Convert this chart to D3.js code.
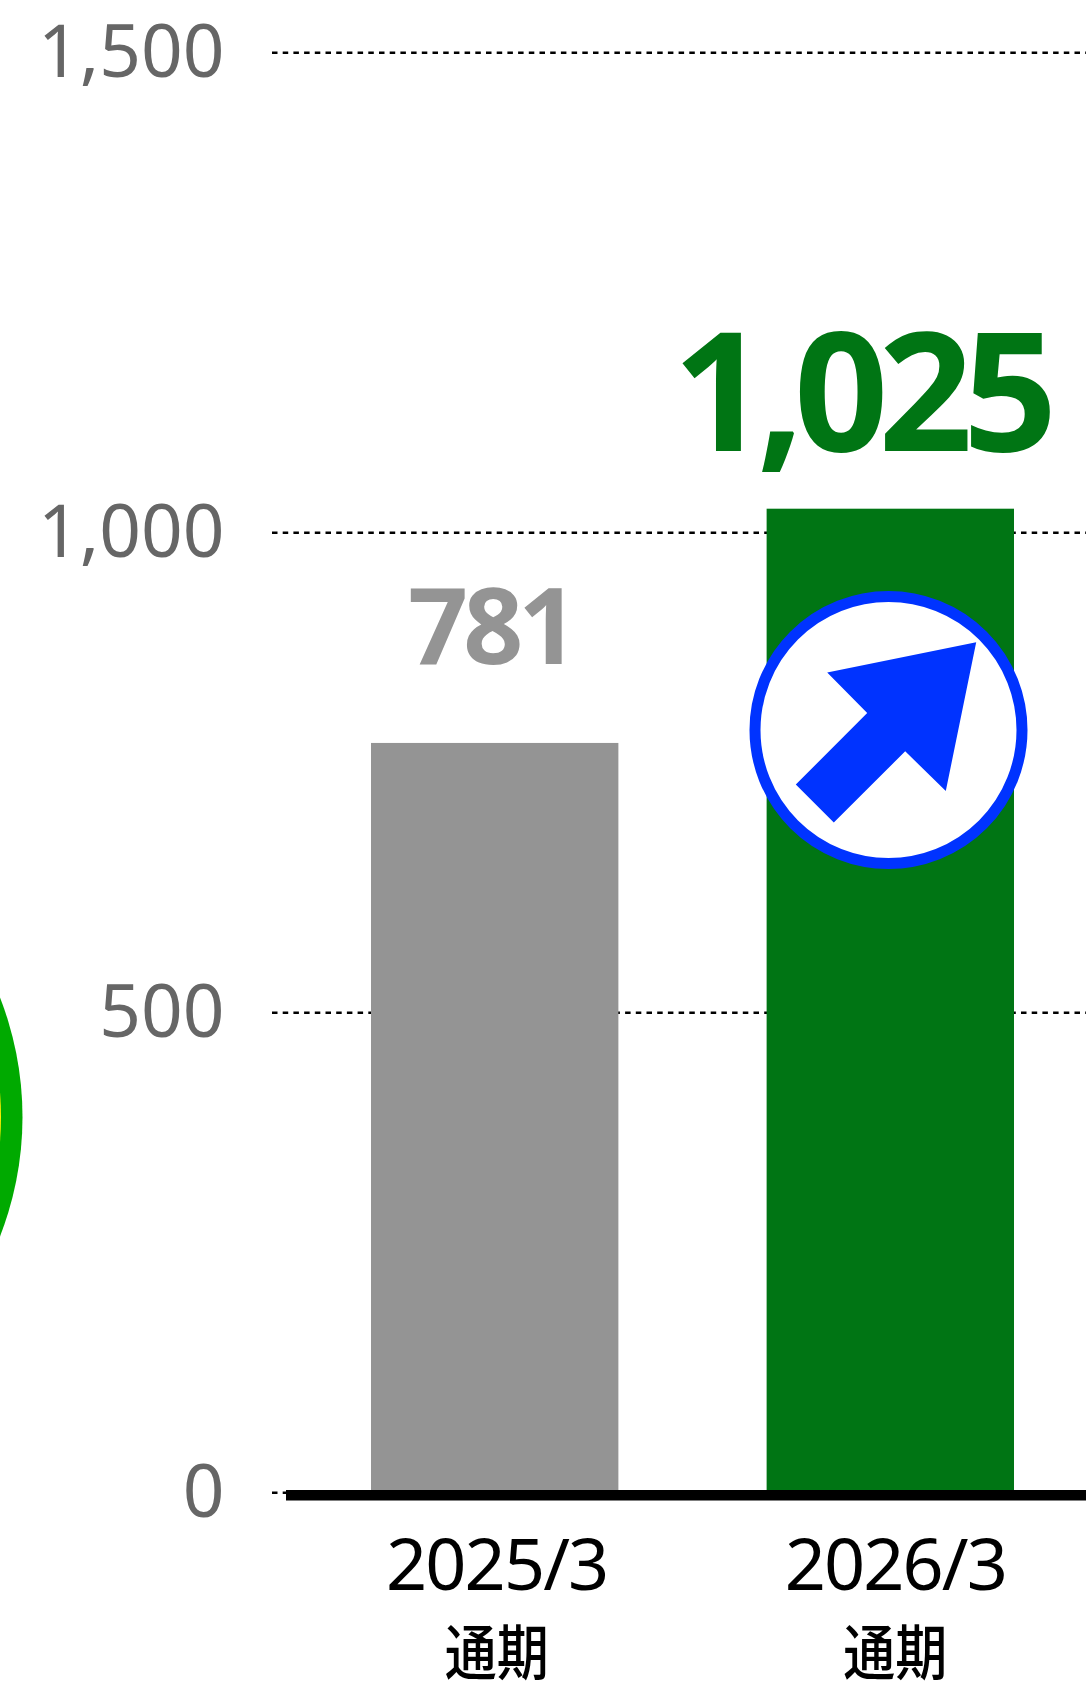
<!DOCTYPE html>
<html><head><meta charset="utf-8">
<script src="https://cdn.jsdelivr.net/npm/d3@7"></script>
<style>html,body{margin:0;padding:0;background:#fff;overflow:hidden}svg{display:block}</style>
</head><body><svg id="c" width="1086" height="1683"></svg>
<script>
const categories = ["2025/3","2026/3"];
const periods = ["通期","通期"];
const values = [781,1025];
const valueLabels = ["781","1,025"];
const barColors = ["#949494","#007514"];
const yTicks = [0,500,1000,1500];
const arrowShape = [[976.2,642.2],[827.2,672.5],[867.2,712.9],[795.8,784.6],[833.8,822.4],[905.2,751.3],[945.8,791]];

const svg = d3.select("#c");
const y = d3.scaleLinear().domain([0,1500]).range([1492.7,52.7]);
const x = d3.scaleBand().domain(categories).range([371,1014]).paddingInner(0.3747).paddingOuter(0);
const FONT = "'Noto Sans','Noto Sans CJK JP',sans-serif";

// decorative circle cut off at the left edge
svg.append("circle").attr("cx",-306).attr("cy",1117).attr("r",328.5).attr("fill","#00aa00");
svg.append("circle").attr("cx",-306).attr("cy",1117).attr("r",307).attr("fill","#ffee00");

// grid
svg.append("g").selectAll("line").data(yTicks).join("line")
  .attr("x1",272).attr("x2",1086).attr("y1",d=>y(d)).attr("y2",d=>y(d))
  .attr("stroke","#000").attr("stroke-width",2.4).attr("stroke-dasharray","5.5 5.2");

// tick labels
svg.append("g").selectAll("text").data(yTicks).join("text")
  .attr("x",224.5).attr("y",d=>y(d)+24.5).attr("text-anchor","end")
  .attr("font-family",FONT).attr("font-size",73).attr("fill","#666")
  .text(d3.format(","));

// bars
svg.append("g").selectAll("rect").data(values).join("rect")
  .attr("x",(d,i)=>x(categories[i])).attr("width",x.bandwidth())
  .attr("y",d=>y(d)).attr("height",d=>1490-y(d))
  .attr("fill",(d,i)=>barColors[i]);

// baseline
svg.append("line").attr("x1",286).attr("x2",1086).attr("y1",1495.3).attr("y2",1495.3)
  .attr("stroke","#000").attr("stroke-width",10.6);

// value labels
const cx = i => x(categories[i])+x.bandwidth()/2;
svg.append("text").attr("x",cx(0)-4).attr("y",664).attr("text-anchor","middle")
  .attr("font-family",FONT).attr("font-weight",700).attr("font-size",105).attr("letter-spacing",-5)
  .attr("fill",barColors[0]).text(valueLabels[0]);
svg.append("text").attr("x",860).attr("y",451).attr("text-anchor","middle")
  .attr("font-family",FONT).attr("font-weight",700).attr("font-size",165).attr("letter-spacing",-10)
  .attr("fill",barColors[1]).text(valueLabels[1]);

// category labels
svg.append("g").selectAll("text").data(categories).join("text")
  .attr("x",(d,i)=>cx(i)+(i?5:2)).attr("y",1590).attr("text-anchor","middle")
  .attr("font-family",FONT).attr("font-size",72).attr("letter-spacing",-1.9).attr("fill","#000").text(d=>d);
svg.append("g").selectAll("text").data(periods).join("text")
  .attr("transform",(d,i)=>`translate(${cx(i)+(i?5:2)},1675) scale(1,1.15)`).attr("text-anchor","middle")
  .attr("font-family",FONT).attr("font-size",52).attr("font-weight",500).attr("fill","#000").text(d=>d);

// up arrow badge
svg.append("circle").attr("cx",888.5).attr("cy",730).attr("r",133.5)
  .attr("fill","#fff").attr("stroke","#0033ff").attr("stroke-width",11);
svg.append("path").attr("d",d3.line()(arrowShape)+"Z").attr("fill","#0033ff");
</script></body></html>
